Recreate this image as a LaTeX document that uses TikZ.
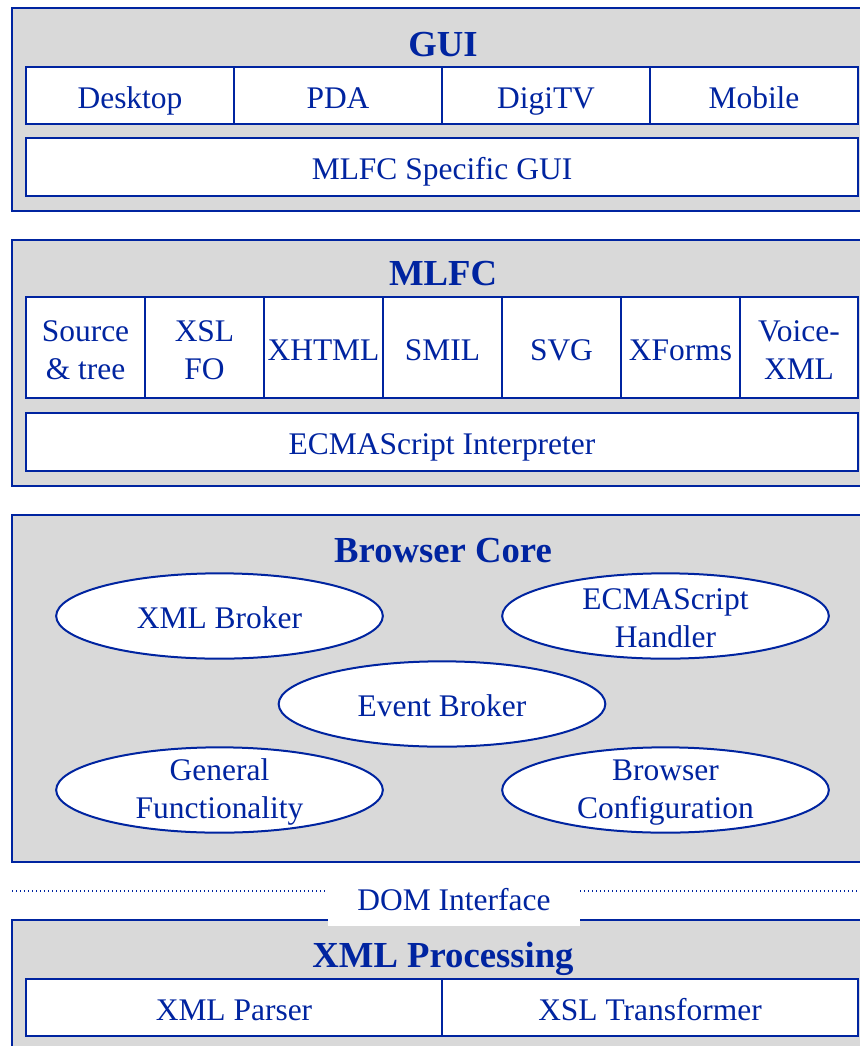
\documentclass[tikz,border=0pt]{standalone}
\usepackage{fontspec}
\setmainfont{Liberation Serif}
\usetikzlibrary{shapes.geometric}
\definecolor{dkblue}{RGB}{0,36,160}
\definecolor{panelgray}{RGB}{217,217,217}
\begin{document}
\begin{tikzpicture}[x=0.75pt,y=-0.75pt,
    panel/.style={draw=dkblue,line width=1.5pt,fill=panelgray},
    cell/.style={draw=dkblue,line width=1.5pt,fill=white},
    txt/.style={text=dkblue,align=center,inner sep=0pt,yshift=-1.8pt,font=\fontsize{23.6}{28.5}\selectfont},
    oneline/.style={txt,text height=15.6pt,text depth=0pt},
    ttl/.style={text=dkblue,inner sep=0pt,text height=18.7pt,text depth=0pt,font=\fontsize{27.5}{33}\selectfont\bfseries},
    oval/.style={ellipse,draw=dkblue,line width=1.5pt,fill=white,inner sep=0pt,minimum width=245pt,minimum height=64pt}]
    \clip (0,0) rectangle (860,1046);
    % GUI
    \draw[panel] (12,8) rectangle (880,211);
    \node[ttl] (gui) at (443,44) {GUI};
    \draw[cell] (26,67) rectangle (234,124) node[midway,oneline] (desktop) {Desktop};
    \draw[cell] (234,67) rectangle (442,124) node[midway,oneline] (pda) {PDA};
    \draw[cell] (442,67) rectangle (650,124) node[midway,oneline] (digitv) {DigiTV};
    \draw[cell] (650,67) rectangle (858,124) node[midway,oneline] (mobile) {Mobile};
    \draw[cell] (26,138) rectangle (858,196) node[midway,oneline] (mlfcgui) {MLFC Specific GUI};
    % MLFC
    \draw[panel] (12,240) rectangle (880,486);
    \node[ttl] (mlfc) at (443,273.5) {MLFC};
    \draw[cell] (26,297) rectangle (145,398) node[midway,txt] (source) {Source\\\& tree};
    \draw[cell] (145,297) rectangle (264,398) node[midway,txt] (xslfo) {XSL\\FO};
    \draw[cell] (264,297) rectangle (383,398) node[midway,oneline] (xhtml) {XHTML};
    \draw[cell] (383,297) rectangle (502,398) node[midway,oneline] (smil) {SMIL};
    \draw[cell] (502,297) rectangle (621,398) node[midway,oneline] (svg) {SVG};
    \draw[cell] (621,297) rectangle (740,398) node[midway,oneline] (xforms) {XForms};
    \draw[cell] (740,297) rectangle (858,398) node[midway,txt] (voicexml) {Voice-\\XML};
    \draw[cell] (26,413) rectangle (858,471) node[midway,oneline] (ecmaint) {ECMAScript Interpreter};
    % Browser Core
    \draw[panel] (12,515) rectangle (880,862);
    \node[ttl] (core) at (443,550) {Browser Core};
    \node[oval] (xmlbroker) at (219.5,616) {};
    \node[oneline] at (xmlbroker) {XML Broker};
    \node[oval] (ecmahandler) at (665.5,616) {};
    \node[txt] at (ecmahandler) {ECMAScript\\Handler};
    \node[oval] (eventbroker) at (442,704) {};
    \node[oneline] at (eventbroker) {Event Broker};
    \node[oval] (general) at (219.5,790) {};
    \node[txt] at (general) {General\\Functionality};
    \node[oval] (config) at (665.5,790) {};
    \node[txt] at (config) {Browser\\Configuration};
    % DOM interface
    \draw[dkblue,line width=1pt,dotted] (12,891) -- (880,891);
    % XML Processing
    \draw[panel] (12,920) rectangle (880,1070);
    \fill[white] (328,872) rectangle (580,926);
    \node[oneline] (dom) at (454,898) {DOM Interface};
    \node[ttl] (xmlproc) at (443,955) {XML Processing};
    \draw[cell] (26,979) rectangle (442,1036) node[midway,oneline] (parser) {XML Parser};
    \draw[cell] (442,979) rectangle (858,1036) node[midway,oneline] (xslt) {XSL Transformer};
\end{tikzpicture}
\end{document}
